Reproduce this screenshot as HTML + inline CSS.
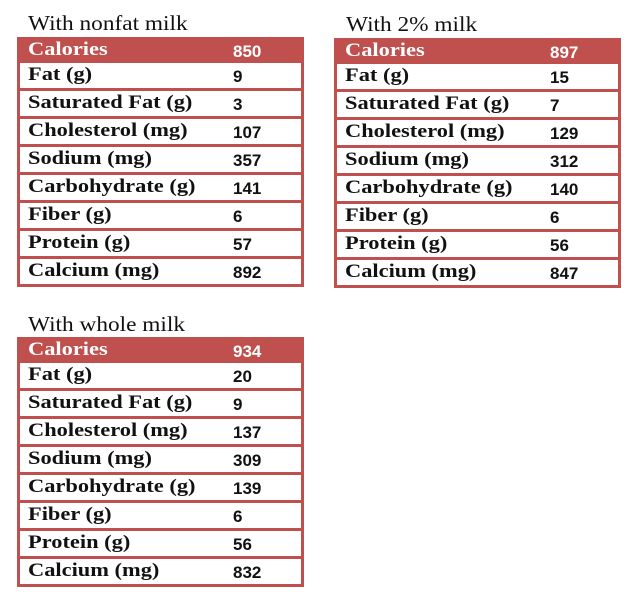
<!DOCTYPE html>
<html><head><style>
body{margin:0;width:638px;height:598px;background:#fff;position:relative;overflow:hidden}
.t{position:absolute;font-family:"Liberation Serif",serif;font-size:21px;color:#111;transform:scaleX(1.11);transform-origin:0 0}
.tb{position:absolute;width:287px;height:250px;background:#c0504d;box-sizing:border-box;padding:0 3px}
.h{height:26px;position:relative;color:#fff}
.r{height:25px;background:#fff;margin-bottom:3px;position:relative;color:#111}
.l{position:absolute;left:8px;top:1px;font-family:"Liberation Serif",serif;font-weight:bold;font-size:19px;transform:scaleX(1.18);transform-origin:0 0;white-space:nowrap}
.v{position:absolute;left:213px;top:4px;font-family:"Liberation Sans",sans-serif;font-weight:bold;font-size:17px}
.h .l{top:2px}.h .v{top:5px}
</style></head><body>
<div class="t" style="left:28px;top:11px">With nonfat milk</div>
<div class="tb" style="left:17px;top:37px">
<div class="h"><span class="l">Calories</span><span class="v">850</span></div>
<div class="r"><span class="l">Fat (g)</span><span class="v">9</span></div>
<div class="r"><span class="l">Saturated Fat (g)</span><span class="v">3</span></div>
<div class="r"><span class="l">Cholesterol (mg)</span><span class="v">107</span></div>
<div class="r"><span class="l">Sodium (mg)</span><span class="v">357</span></div>
<div class="r"><span class="l">Carbohydrate (g)</span><span class="v">141</span></div>
<div class="r"><span class="l">Fiber (g)</span><span class="v">6</span></div>
<div class="r"><span class="l">Protein (g)</span><span class="v">57</span></div>
<div class="r"><span class="l">Calcium (mg)</span><span class="v">892</span></div>
</div>
<div class="t" style="left:346px;top:12px">With 2% milk</div>
<div class="tb" style="left:334px;top:38px">
<div class="h"><span class="l">Calories</span><span class="v">897</span></div>
<div class="r"><span class="l">Fat (g)</span><span class="v">15</span></div>
<div class="r"><span class="l">Saturated Fat (g)</span><span class="v">7</span></div>
<div class="r"><span class="l">Cholesterol (mg)</span><span class="v">129</span></div>
<div class="r"><span class="l">Sodium (mg)</span><span class="v">312</span></div>
<div class="r"><span class="l">Carbohydrate (g)</span><span class="v">140</span></div>
<div class="r"><span class="l">Fiber (g)</span><span class="v">6</span></div>
<div class="r"><span class="l">Protein (g)</span><span class="v">56</span></div>
<div class="r"><span class="l">Calcium (mg)</span><span class="v">847</span></div>
</div>
<div class="t" style="left:28px;top:312px">With whole milk</div>
<div class="tb" style="left:17px;top:337px">
<div class="h"><span class="l">Calories</span><span class="v">934</span></div>
<div class="r"><span class="l">Fat (g)</span><span class="v">20</span></div>
<div class="r"><span class="l">Saturated Fat (g)</span><span class="v">9</span></div>
<div class="r"><span class="l">Cholesterol (mg)</span><span class="v">137</span></div>
<div class="r"><span class="l">Sodium (mg)</span><span class="v">309</span></div>
<div class="r"><span class="l">Carbohydrate (g)</span><span class="v">139</span></div>
<div class="r"><span class="l">Fiber (g)</span><span class="v">6</span></div>
<div class="r"><span class="l">Protein (g)</span><span class="v">56</span></div>
<div class="r"><span class="l">Calcium (mg)</span><span class="v">832</span></div>
</div>
</body></html>
